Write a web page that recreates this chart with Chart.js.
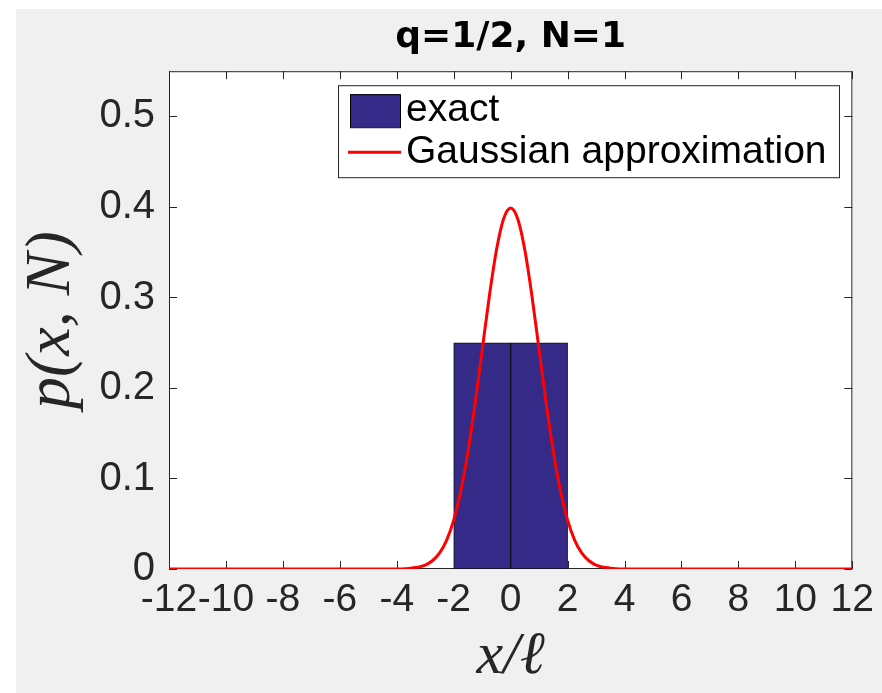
<!DOCTYPE html>
<html>
<head>
<meta charset="utf-8">
<script src="https://cdn.jsdelivr.net/npm/chart.js@4/dist/chart.umd.min.js"></script>
<style>
html, body { margin: 0; padding: 0; background: #fff; }
#bg { position: absolute; left: 16px; top: 9px; right: 0; bottom: 0; background: #f0f0f0; }
#wrap { position: absolute; left: 0; top: 0; width: 882px; height: 693px; }
</style>
</head>
<body>
<div id="bg"></div>
<div id="wrap"><canvas id="chart"></canvas></div>
<script>
// histogram of the exact distribution (bin centres, bin width 2)
const barX = [-1, 1];
const barP = [0.25, 0.25];

// gaussian approximation
const gaussX = [-12, -5, -4, -3.5, -3, -2.75, -2.5, -2.25, -2, -1.75, -1.5, -1.25, -1, -0.75, -0.5, -0.25, 0,
                0.25, 0.5, 0.75, 1, 1.25, 1.5, 1.75, 2, 2.25, 2.5, 2.75, 3, 3.5, 4, 5, 12];
const gaussP = [0, 0, 0.0001, 0.0009, 0.0044, 0.0091, 0.0175, 0.0317, 0.054, 0.0863, 0.1295, 0.1826, 0.242, 0.3011, 0.3521, 0.3867, 0.3989,
                0.3867, 0.3521, 0.3011, 0.242, 0.1826, 0.1295, 0.0863, 0.054, 0.0317, 0.0175, 0.0091, 0.0044, 0.0009, 0.0001, 0, 0];

const xTicks = [-12, -10, -8, -6, -4, -2, 0, 2, 4, 6, 8, 10, 12];
const yTicks = [0, 0.1, 0.2, 0.3, 0.4, 0.5];

const axisColor = '#262626';
const sansFont = "'Liberation Sans', Arial, sans-serif";
const serifFont = "'Liberation Serif', 'DejaVu Serif', serif";

// white plot area, box and inward ticks like matlab
const matlabAxes = {
    id: 'matlabAxes',
    beforeDraw(chart) {
        const {ctx, chartArea: a} = chart;
        ctx.save();
        ctx.fillStyle = '#fff';
        ctx.fillRect(a.left, a.top, a.width, a.height);
        ctx.restore();
    },
    beforeDatasetsDraw(chart) {
        const {ctx, chartArea: a, scales: {x, y}} = chart;
        const len = 8;
        ctx.save();
        ctx.strokeStyle = axisColor;
        ctx.lineWidth = 1;
        ctx.beginPath();
        x.ticks.forEach(t => {
            const px = Math.round(x.getPixelForValue(t.value)) + 0.5;
            ctx.moveTo(px, a.bottom); ctx.lineTo(px, a.bottom - len);
            ctx.moveTo(px, a.top); ctx.lineTo(px, a.top + len);
        });
        y.ticks.forEach(t => {
            const py = Math.round(y.getPixelForValue(t.value)) + 0.5;
            ctx.moveTo(a.left, py); ctx.lineTo(a.left + len, py);
            ctx.moveTo(a.right, py); ctx.lineTo(a.right - len, py);
        });
        ctx.stroke();
        ctx.strokeRect(a.left + 0.5, a.top + 0.5, a.width - 1, a.height - 1);
        ctx.restore();
    }
};

// boxed legend inside the plot, top right
const boxLegend = {
    id: 'boxLegend',
    afterDatasetsDraw(chart) {
        const {ctx, chartArea: a} = chart;
        const bx = a.left + 169, by = a.top + 14, bw = 501, bh = 92;
        ctx.save();
        ctx.fillStyle = '#fff';
        ctx.fillRect(bx, by, bw, bh);
        ctx.strokeStyle = axisColor;
        ctx.lineWidth = 1;
        ctx.strokeRect(bx + 0.5, by + 0.5, bw, bh);

        const bar = chart.data.datasets[1];
        const line = chart.data.datasets[0];
        ctx.fillStyle = bar.backgroundColor;
        ctx.fillRect(bx + 12, by + 9, 50, 33);
        ctx.strokeStyle = '#000';
        ctx.strokeRect(bx + 12.5, by + 9.5, 50, 33);

        ctx.strokeStyle = line.borderColor;
        ctx.lineWidth = 3;
        ctx.beginPath();
        ctx.moveTo(bx + 10, by + 67);
        ctx.lineTo(bx + 63, by + 67);
        ctx.stroke();

        ctx.fillStyle = '#000';
        ctx.font = '39px ' + sansFont;
        ctx.textBaseline = 'alphabetic';
        ctx.fillText(bar.label, bx + 68, by + 36);
        ctx.fillText(line.label, bx + 68, by + 78);
        ctx.restore();
    }
};

new Chart(document.getElementById('chart'), {
    type: 'bar',
    data: {
        datasets: [{
            type: 'line',
            label: 'Gaussian approximation',
            data: gaussX.map((x, i) => ({x: x, y: gaussP[i]})),
            borderColor: '#ff0000',
            borderWidth: 3,
            pointRadius: 0,
            cubicInterpolationMode: 'monotone',
            fill: false,
            order: 0
        }, {
            label: 'exact',
            data: barX.map((x, i) => ({x: x, y: barP[i]})),
            backgroundColor: '#352a87',
            borderColor: '#111111',
            borderWidth: 1,
            borderSkipped: false,
            barPercentage: 1,
            categoryPercentage: 1,
            order: 1
        }]
    },
    options: {
        responsive: true,
        maintainAspectRatio: false,
        animation: false,
        layout: { padding: { left: 0, right: 27, top: 0, bottom: 0 } },
        plugins: {
            legend: { display: false },
            tooltip: { enabled: false },
            title: {
                display: true,
                text: 'q=1/2, N=1',
                fullSize: false,
                color: '#000',
                font: { family: "'DejaVu Sans', sans-serif", size: 36, weight: 'bold', lineHeight: 1.2 },
                padding: { top: 16, bottom: 12 }
            }
        },
        scales: {
            x: {
                type: 'linear',
                position: 'bottom',
                min: -12,
                max: 12,
                offset: false,
                grid: { display: false, drawTicks: false },
                border: { display: false },
                afterBuildTicks: s => { s.ticks = xTicks.map(v => ({value: v})); },
                afterFit: s => { s.height = 124; },
                ticks: {
                    autoSkip: false,
                    maxRotation: 0,
                    padding: 8,
                    color: axisColor,
                    font: { family: sansFont, size: 39 },
                    callback: v => String(v)
                },
                title: {
                    display: true,
                    text: 'x/ℓ',
                    color: axisColor,
                    font: { family: serifFont, style: 'italic', size: 60 },
                    padding: { top: 0, bottom: 0 }
                }
            },
            y: {
                type: 'linear',
                min: 0,
                max: 0.55,
                grid: { display: false, drawTicks: false },
                border: { display: false },
                afterBuildTicks: s => { s.ticks = yTicks.map(v => ({value: v})); },
                afterFit: s => { s.width = 169; },
                ticks: {
                    padding: 14,
                    color: axisColor,
                    font: { family: sansFont, size: 40 },
                    callback: v => String(v)
                },
                title: {
                    display: true,
                    text: 'p(x, N)',
                    color: axisColor,
                    font: { family: serifFont, style: 'italic', size: 64 },
                    padding: { top: 14, bottom: 0 }
                }
            }
        }
    },
    plugins: [matlabAxes, boxLegend]
});
</script>
</body>
</html>
